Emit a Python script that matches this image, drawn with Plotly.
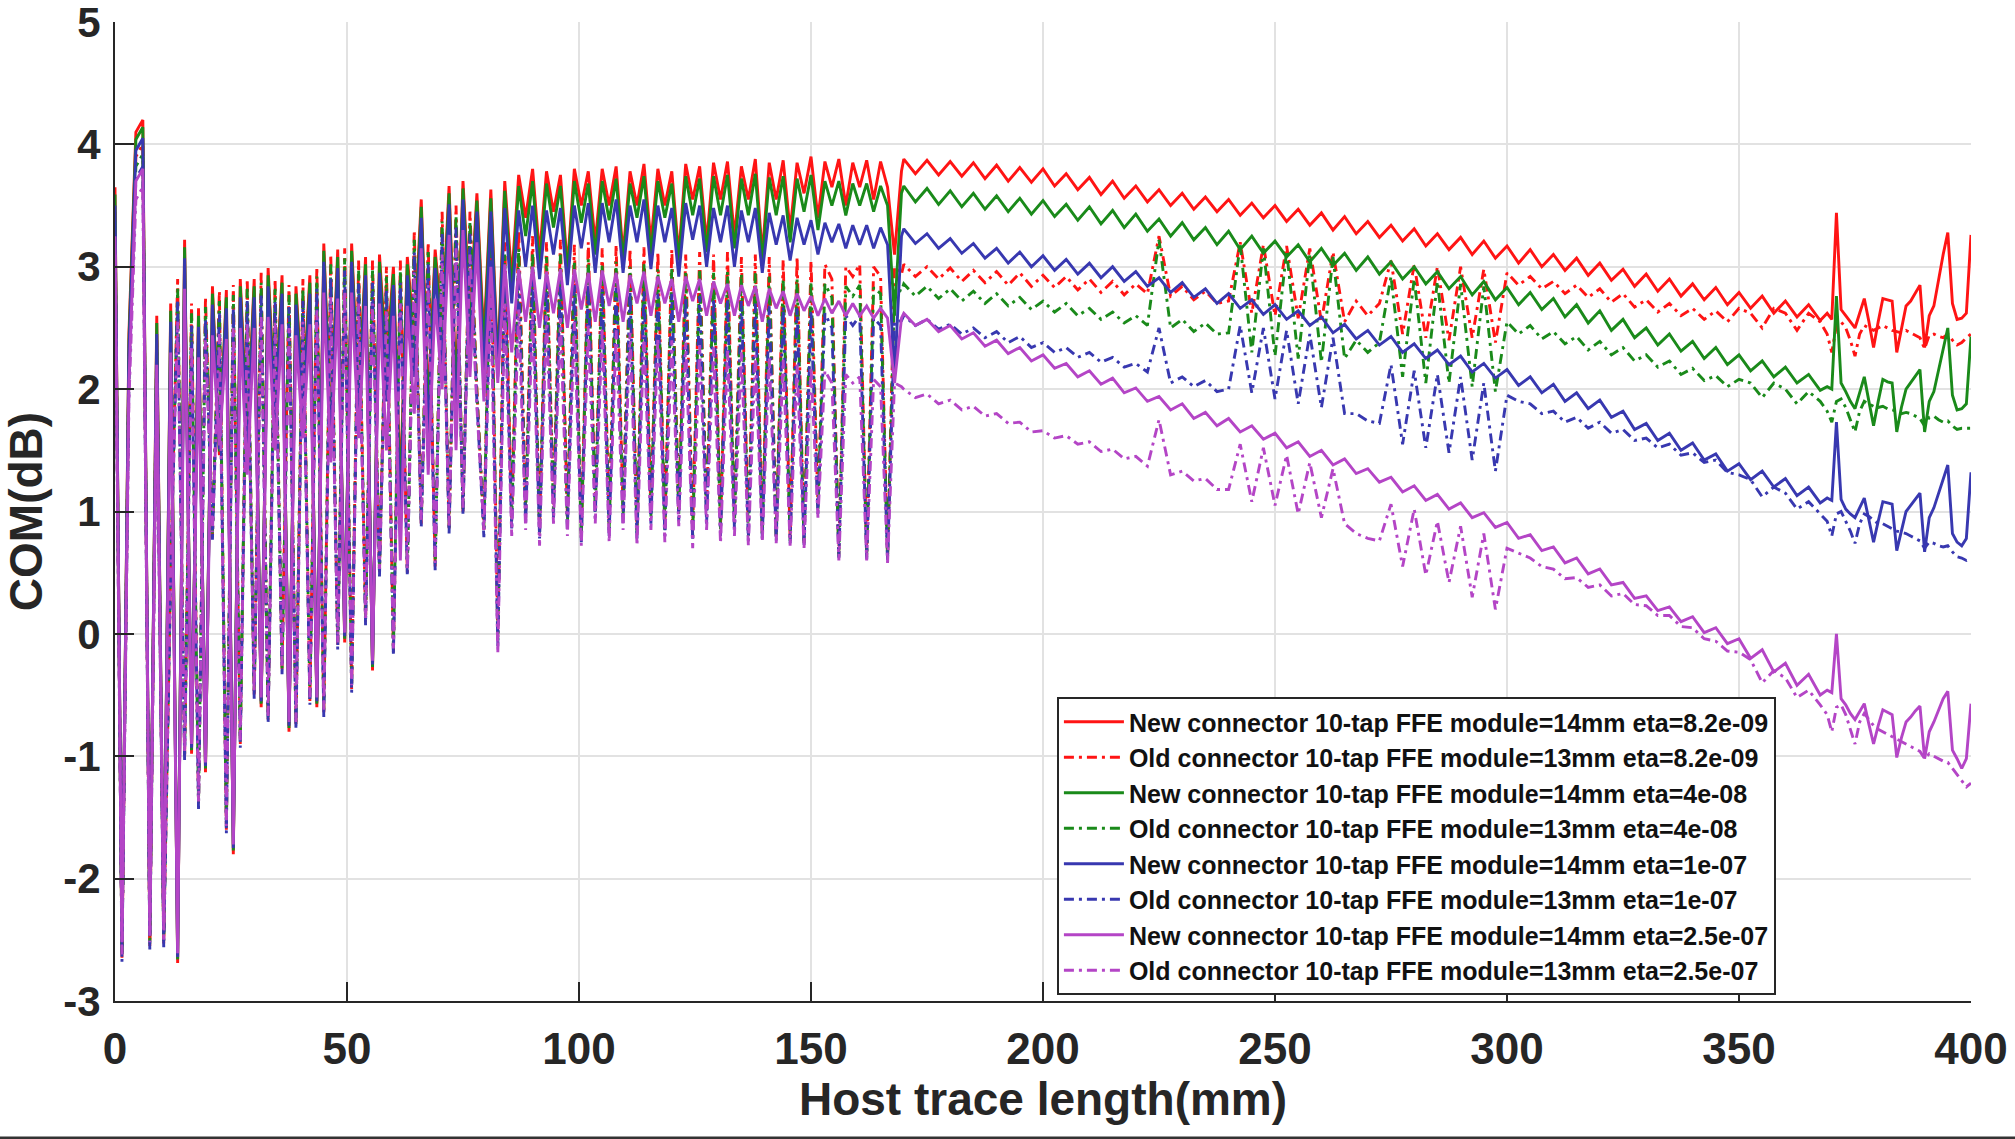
import numpy as np
import plotly.graph_objects as go

# ---------------- data ----------------
# host trace length (mm): dense sampling in the oscillating zone, coarser later, finer at the end
x_a = np.arange(0, 170, 1.5)      # 0 .. 169.5  (114 pts)
x_b = np.arange(170, 368, 2.5)    # 170 .. 367.5 (80 pts)
x_c = np.arange(369, 401, 1)      # 369 .. 400  (32 pts)

x_ticks = [0, 50, 100, 150, 200, 250, 300, 350, 400]
y_ticks = [-3, -2, -1, 0, 1, 2, 3, 4, 5]

names = [
    "New connector 10-tap FFE module=14mm eta=8.2e-09",
    "Old connector 10-tap FFE module=13mm eta=8.2e-09",
    "New connector 10-tap FFE module=14mm eta=4e-08",
    "Old connector 10-tap FFE module=13mm eta=4e-08",
    "New connector 10-tap FFE module=14mm eta=1e-07",
    "Old connector 10-tap FFE module=13mm eta=1e-07",
    "New connector 10-tap FFE module=14mm eta=2.5e-07",
    "Old connector 10-tap FFE module=13mm eta=2.5e-07",
]

# New connector, eta=8.2e-09 (red solid)
rs_a = [3.65, -2.6, 2.45, 4.1, 4.2, -2.5, 2.6, -2.48, 2.7, -2.69,
        3.22, -0.98, 2.66, -1.13, 2.84, 1.46, 2.81, -1.8, 2.9, 1.6,
        2.9, -0.6, 2.99, 1.8, 2.93, -0.8, 2.84, 1.9, 2.93, -0.6,
        3.19, 1.7, 3.14, -0.07, 3.19, 1.9, 3.08, -0.3, 3.1, 2.2,
        3.0, 1.2, 3.08, 2.4, 3.55, 1.9, 3.14, 2.5, 3.66, 2.0,
        3.7, 2.6, 3.6, 2.4,
        3.63, 2.2, 3.70, 2.9, 3.75, 3.4, 3.80, 3.1, 3.78, 3.45,
        3.75, 3.0, 3.80, 3.5, 3.78, 3.2, 3.80, 3.5, 3.82, 3.1,
        3.78, 3.5, 3.84, 3.2, 3.80, 3.5, 3.78, 3.1, 3.84, 3.55,
        3.82, 3.2, 3.85, 3.55, 3.86, 3.25, 3.82, 3.55, 3.88, 3.1,
        3.85, 3.55, 3.87, 3.3, 3.85, 3.6, 3.90, 3.4, 3.86, 3.65,
        3.88, 3.5, 3.85, 3.65, 3.87, 3.55, 3.86, 3.65, 3.1, 3.78]
rs_b = [3.88, 3.76, 3.87, 3.75, 3.86, 3.74, 3.85, 3.72, 3.83, 3.70,
        3.81, 3.69, 3.80, 3.66, 3.76, 3.63, 3.73, 3.59, 3.70, 3.56,
        3.66, 3.53, 3.63, 3.50, 3.60, 3.47, 3.57, 3.45, 3.55, 3.42,
        3.52, 3.40, 3.50, 3.37, 3.47, 3.34, 3.44, 3.30, 3.41, 3.27,
        3.37, 3.24, 3.34, 3.21, 3.31, 3.17, 3.27, 3.14, 3.24, 3.10,
        3.21, 3.07, 3.17, 3.03, 3.14, 3.00, 3.10, 2.97, 3.07, 2.93,
        3.03, 2.89, 2.98, 2.84, 2.94, 2.80, 2.90, 2.76, 2.86, 2.73,
        2.83, 2.69, 2.79, 2.66, 2.76, 2.62, 2.72, 2.59, 2.69, 2.56]
rs_c = [2.62, 2.57, 3.44, 2.65, 2.60, 2.55, 2.50, 2.62, 2.74, 2.55,
        2.34, 2.55, 2.74, 2.73, 2.72, 2.30, 2.50, 2.68, 2.72, 2.78,
        2.85, 2.34, 2.60, 2.68, 2.90, 3.10, 3.28, 2.70, 2.57, 2.58,
        2.62, 3.26]

# Old connector, eta=8.2e-09 (red dash-dot)
rd_a = [3.45, -2.65, 2.25, 3.90, 4.00, -2.55, 2.40, -2.53, 0.5, 2.9,
        -1.0, 2.7, -1.4, 2.75, 0.8, 2.8, -1.6, 2.85, -0.9, 2.9,
        -0.5, 2.95, -0.7, 2.9, -0.3, 2.85, -0.75, 2.9, -0.55, 3.0,
        -0.65, 3.1, -0.1, 3.15, -0.45, 3.05, 0.1, 3.05, 0.5, 3.0,
        -0.15, 3.05, 0.5, 3.3, 0.9, 3.2, 0.55, 3.45, 0.85, 3.5,
        1.0, 3.45, 2.0, 0.85,
        3.35, 0.0, 3.2, 0.95, 3.3, 1.0, 3.25, 0.85, 3.2, 1.05,
        3.22, 0.95, 3.18, 0.8, 3.2, 1.05, 3.15, 0.9, 3.18, 1.0,
        3.15, 0.85, 3.16, 1.0, 3.12, 0.88, 3.14, 1.02, 3.1, 0.85,
        3.12, 1.0, 3.1, 0.88, 3.12, 0.95, 3.08, 0.85, 3.1, 0.82,
        3.08, 0.8, 3.06, 0.78, 3.08, 0.75, 3.05, 1.05, 3.02, 2.9,
        0.65, 3.0, 2.92, 3.02, 0.65, 3.0, 2.92, 0.62, 3.0, 2.94]
rd_b = [3.02, 2.92, 3.00, 2.90, 2.99, 2.88, 2.97, 2.87, 2.96, 2.85,
        2.95, 2.84, 2.93, 2.83, 2.92, 2.81, 2.90, 2.79, 2.88, 2.77,
        2.86, 2.78, 3.25, 2.76, 2.84, 2.73, 2.80, 2.70, 2.72, 3.20,
        2.62, 3.18, 2.60, 3.17, 2.58, 3.15, 2.55, 3.12, 2.55, 2.72,
        2.60, 2.70, 3.05, 2.45, 3.02, 2.42, 3.00, 2.40, 3.00, 2.42,
        2.98, 2.38, 2.95, 2.85, 2.92, 2.82, 2.88, 2.78, 2.85, 2.75,
        2.82, 2.71, 2.78, 2.67, 2.73, 2.63, 2.70, 2.60, 2.66, 2.57,
        2.64, 2.55, 2.66, 2.62, 2.50, 2.66, 2.62, 2.48, 2.62, 2.55]
rd_c = [2.45, 2.30, 2.52, 2.55, 2.50, 2.40, 2.27, 2.45, 2.52, 2.50,
        2.48, 2.50, 2.52, 2.50, 2.48, 2.47, 2.46, 2.48, 2.46, 2.44,
        2.42, 2.33, 2.44, 2.45, 2.43, 2.42, 2.45, 2.40, 2.36, 2.38,
        2.42, 2.45]

# New connector, eta=4e-08 (green solid)
gs_a = [3.59, -2.57, 2.39, 4.04, 4.14, -2.47, 2.54, -2.45, 2.64, -2.66,
        3.16, -0.95, 2.60, -1.10, 2.78, 1.49, 2.75, -1.77, 2.84, 1.55,
        2.84, -0.57, 2.93, 1.75, 2.87, -0.77, 2.78, 1.85, 2.87, -0.57,
        3.13, 1.65, 3.08, -0.04, 3.13, 1.85, 3.02, -0.27, 3.04, 2.1,
        2.94, 1.1, 3.02, 2.3, 3.49, 1.8, 3.08, 2.4, 3.60, 1.9,
        3.64, 2.5, 3.54, 2.3,
        3.56, 2.15, 3.62, 2.8, 3.66, 3.25, 3.70, 3.0, 3.68, 3.32,
        3.66, 2.95, 3.70, 3.36, 3.68, 3.1, 3.70, 3.38, 3.72, 3.05,
        3.68, 3.4, 3.74, 3.1, 3.70, 3.4, 3.68, 3.05, 3.74, 3.42,
        3.72, 3.12, 3.74, 3.42, 3.75, 3.15, 3.72, 3.42, 3.76, 3.05,
        3.73, 3.42, 3.74, 3.2, 3.72, 3.45, 3.75, 3.3, 3.70, 3.5,
        3.70, 3.42, 3.68, 3.5, 3.68, 3.45, 3.66, 3.5, 2.6, 3.6]
gs_b = [3.66, 3.53, 3.64, 3.51, 3.62, 3.49, 3.60, 3.47, 3.58, 3.45,
        3.56, 3.43, 3.54, 3.41, 3.51, 3.38, 3.49, 3.35, 3.46, 3.32,
        3.43, 3.29, 3.39, 3.25, 3.36, 3.22, 3.32, 3.18, 3.29, 3.14,
        3.25, 3.11, 3.21, 3.08, 3.18, 3.04, 3.15, 3.01, 3.11, 2.97,
        3.08, 2.94, 3.04, 2.90, 3.00, 2.86, 2.96, 2.82, 2.92, 2.77,
        2.88, 2.73, 2.83, 2.69, 2.79, 2.65, 2.74, 2.59, 2.69, 2.54,
        2.64, 2.48, 2.57, 2.42, 2.50, 2.36, 2.45, 2.31, 2.39, 2.25,
        2.34, 2.20, 2.28, 2.15, 2.23, 2.10, 2.18, 2.05, 2.12, 1.99]
gs_c = [2.02, 2.00, 2.76, 2.05, 1.98, 1.90, 1.84, 1.97, 2.10, 1.90,
        1.70, 1.90, 2.08, 2.06, 2.05, 1.65, 1.85, 2.00, 2.05, 2.10,
        2.16, 1.65, 1.90, 1.98, 2.15, 2.33, 2.50, 1.95, 1.83, 1.84,
        1.88, 2.43]

# Old connector, eta=4e-08 (green dash-dot)
gd_a = [3.37, -2.63, 2.17, 3.82, 3.92, -2.53, 2.32, -2.51, 0.52, 2.82,
        -0.98, 2.62, -1.38, 2.67, 0.82, 2.72, -1.58, 2.77, -0.88, 2.82,
        -0.48, 2.87, -0.68, 2.82, -0.28, 2.77, -0.73, 2.82, -0.53, 2.92,
        -0.63, 3.02, -0.08, 3.07, -0.43, 2.97, 0.12, 2.97, 0.52, 2.92,
        -0.13, 2.97, 0.52, 3.22, 0.92, 3.12, 0.57, 3.37, 0.87, 3.42,
        1.02, 3.37, 1.95, 0.87,
        3.25, -0.05, 3.1, 0.92, 3.15, 0.95, 3.12, 0.82, 3.08, 1.0,
        3.1, 0.9, 3.05, 0.78, 3.06, 1.0, 3.02, 0.85, 3.04, 0.95,
        3.0, 0.82, 3.02, 0.96, 2.98, 0.85, 3.0, 0.98, 2.96, 0.8,
        2.98, 0.96, 2.95, 0.84, 2.96, 0.9, 2.94, 0.8, 2.95, 0.8,
        2.92, 0.78, 2.9, 0.76, 2.9, 0.74, 2.88, 1.0, 2.86, 2.75,
        0.63, 2.84, 2.76, 2.85, 0.63, 2.83, 2.78, 0.61, 2.82, 2.8]
gd_b = [2.86, 2.76, 2.84, 2.74, 2.82, 2.72, 2.80, 2.70, 2.78, 2.68,
        2.75, 2.65, 2.72, 2.63, 2.70, 2.60, 2.66, 2.57, 2.63, 2.54,
        2.60, 2.52, 3.22, 2.50, 2.57, 2.47, 2.54, 2.45, 2.46, 3.18,
        2.30, 3.15, 2.27, 3.13, 2.25, 3.10, 2.22, 3.08, 2.25, 2.40,
        2.30, 2.38, 2.92, 2.10, 2.90, 2.05, 2.88, 2.05, 2.86, 2.02,
        2.84, 1.98, 2.55, 2.45, 2.52, 2.41, 2.47, 2.37, 2.43, 2.32,
        2.39, 2.28, 2.34, 2.23, 2.28, 2.18, 2.23, 2.12, 2.17, 2.07,
        2.11, 2.02, 2.08, 2.05, 1.93, 2.05, 2.00, 1.88, 1.98, 1.90]
gd_c = [1.82, 1.73, 1.90, 1.92, 1.85, 1.75, 1.65, 1.82, 1.90, 1.88,
        1.86, 1.85, 1.86, 1.84, 1.83, 1.82, 1.80, 1.81, 1.80, 1.78,
        1.76, 1.70, 1.77, 1.78, 1.75, 1.73, 1.74, 1.70, 1.67, 1.68,
        1.68, 1.68]

# New connector, eta=1e-07 (blue solid)
bs_a = [3.50, -2.55, 2.30, 3.95, 4.05, -2.45, 2.45, -2.43, 2.55, -2.64,
        3.07, -0.93, 2.51, -1.08, 2.69, 1.51, 2.66, -1.75, 2.75, 1.45,
        2.75, -0.55, 2.84, 1.65, 2.78, -0.75, 2.69, 1.75, 2.78, -0.55,
        3.04, 1.55, 2.99, -0.02, 3.04, 1.75, 2.93, -0.25, 2.95, 1.9,
        2.85, 0.9, 2.93, 2.1, 3.40, 1.6, 2.99, 2.2, 3.51, 1.7,
        3.55, 2.3, 3.45, 2.1,
        3.45, 2.1, 3.48, 2.7, 3.46, 3.0, 3.50, 2.9, 3.46, 3.1,
        3.48, 2.85, 3.50, 3.15, 3.52, 2.95, 3.52, 3.2, 3.55, 2.95,
        3.50, 3.2, 3.55, 2.98, 3.50, 3.2, 3.48, 2.92, 3.52, 3.22,
        3.50, 3.0, 3.48, 3.2, 3.50, 3.0, 3.46, 3.2, 3.48, 2.95,
        3.44, 3.18, 3.42, 3.05, 3.40, 3.18, 3.38, 3.1, 3.36, 3.2,
        3.35, 3.15, 3.34, 3.18, 3.34, 3.15, 3.32, 3.18, 2.1, 3.25]
bs_b = [3.31, 3.19, 3.27, 3.15, 3.23, 3.11, 3.19, 3.07, 3.15, 3.03,
        3.12, 3.00, 3.09, 2.97, 3.06, 2.94, 3.03, 2.91, 3.00, 2.88,
        2.96, 2.84, 2.91, 2.79, 2.87, 2.75, 2.82, 2.70, 2.78, 2.66,
        2.73, 2.61, 2.69, 2.57, 2.64, 2.52, 2.59, 2.46, 2.53, 2.41,
        2.48, 2.36, 2.43, 2.30, 2.37, 2.25, 2.32, 2.20, 2.27, 2.14,
        2.21, 2.09, 2.16, 2.03, 2.10, 1.97, 2.04, 1.90, 1.97, 1.84,
        1.91, 1.77, 1.82, 1.67, 1.72, 1.58, 1.64, 1.50, 1.56, 1.42,
        1.47, 1.33, 1.39, 1.26, 1.33, 1.20, 1.27, 1.13, 1.20, 1.07]
bs_c = [1.11, 1.09, 1.73, 1.10, 1.02, 0.98, 0.95, 1.03, 1.11, 0.93,
        0.75, 0.92, 1.08, 1.07, 1.06, 0.68, 0.85, 1.00, 1.05, 1.10,
        1.15, 0.67, 0.95, 1.03, 1.15, 1.27, 1.38, 0.82, 0.75, 0.72,
        0.78, 1.32]

# Old connector, eta=1e-07 (blue dash-dot)
bd_a = [3.27, -2.68, 2.07, 3.72, 3.82, -2.58, 2.22, -2.56, 0.47, 2.72,
        -1.03, 2.52, -1.43, 2.57, 0.77, 2.62, -1.63, 2.67, -0.93, 2.72,
        -0.53, 2.77, -0.73, 2.72, -0.33, 2.67, -0.78, 2.72, -0.58, 2.82,
        -0.68, 2.92, -0.13, 2.97, -0.48, 2.87, 0.07, 2.87, 0.47, 2.82,
        -0.18, 2.87, 0.47, 3.12, 0.87, 3.02, 0.52, 3.27, 0.82, 3.32,
        0.97, 3.27, 1.9, 0.79,
        3.05, -0.1, 2.95, 0.85, 2.95, 0.9, 2.92, 0.78, 2.9, 0.95,
        2.88, 0.85, 2.85, 0.75, 2.86, 0.95, 2.82, 0.8, 2.83, 0.9,
        2.8, 0.78, 2.8, 0.9, 2.78, 0.8, 2.78, 0.92, 2.75, 0.76,
        2.76, 0.9, 2.74, 0.8, 2.73, 0.86, 2.72, 0.76, 2.7, 0.78,
        2.68, 0.76, 2.67, 0.74, 2.66, 0.72, 2.64, 0.98, 2.62, 2.5,
        0.62, 2.6, 2.52, 2.6, 0.61, 2.58, 2.52, 0.6, 2.55, 2.56]
bd_b = [2.60, 2.52, 2.57, 2.49, 2.53, 2.45, 2.50, 2.42, 2.47, 2.38,
        2.43, 2.34, 2.38, 2.30, 2.34, 2.26, 2.30, 2.22, 2.26, 2.18,
        2.21, 2.14, 2.50, 2.05, 2.10, 2.02, 2.07, 1.98, 2.00, 2.52,
        1.97, 2.50, 1.92, 2.48, 1.88, 2.45, 1.85, 2.42, 1.80, 1.80,
        1.74, 1.72, 2.20, 1.55, 2.15, 1.52, 2.12, 1.48, 2.10, 1.42,
        2.05, 1.33, 1.95, 1.90, 1.88, 1.80, 1.82, 1.73, 1.77, 1.68,
        1.73, 1.64, 1.67, 1.58, 1.60, 1.52, 1.55, 1.46, 1.48, 1.40,
        1.42, 1.32, 1.30, 1.26, 1.12, 1.20, 1.15, 1.02, 1.08, 0.98]
bd_c = [0.92, 0.80, 0.98, 1.00, 0.92, 0.84, 0.74, 0.90, 0.98, 0.96,
        0.93, 0.90, 0.90, 0.88, 0.86, 0.84, 0.83, 0.82, 0.80, 0.78,
        0.76, 0.70, 0.75, 0.74, 0.72, 0.71, 0.72, 0.67, 0.63, 0.62,
        0.60, 0.62]

# New connector, eta=2.5e-07 (purple solid)
ps_a = [3.25, -2.52, 2.05, 3.70, 3.80, -2.42, 2.20, -2.40, 2.30, -2.61,
        2.82, -0.90, 2.26, -1.05, 2.44, 1.54, 2.41, -1.72, 2.50, 1.3,
        2.50, -0.52, 2.59, 1.5, 2.53, -0.72, 2.44, 1.6, 2.53, -0.52,
        2.79, 1.4, 2.74, 0.01, 2.79, 1.6, 2.68, -0.22, 2.70, 1.5,
        2.60, 0.6, 2.68, 1.8, 3.15, 1.3, 2.74, 2.0, 3.26, 1.5,
        3.30, 2.1, 3.20, 1.9,
        3.0, 2.05, 3.02, 2.3, 2.98, 2.55, 3.0, 2.5, 2.96, 2.62,
        2.98, 2.5, 2.98, 2.65, 2.95, 2.55, 2.97, 2.68, 2.95, 2.55,
        2.93, 2.7, 2.96, 2.6, 2.92, 2.7, 2.90, 2.55, 2.92, 2.72,
        2.90, 2.6, 2.88, 2.7, 2.86, 2.6, 2.85, 2.68, 2.84, 2.55,
        2.82, 2.66, 2.80, 2.6, 2.78, 2.64, 2.76, 2.6, 2.74, 2.62,
        2.72, 2.6, 2.70, 2.6, 2.68, 2.58, 2.66, 2.58, 2.05, 2.58]
ps_b = [2.62, 2.52, 2.57, 2.47, 2.52, 2.41, 2.46, 2.35, 2.40, 2.29,
        2.34, 2.23, 2.28, 2.17, 2.21, 2.10, 2.15, 2.04, 2.09, 1.97,
        2.01, 1.90, 1.94, 1.83, 1.88, 1.76, 1.81, 1.70, 1.76, 1.65,
        1.70, 1.59, 1.64, 1.52, 1.57, 1.45, 1.50, 1.38, 1.43, 1.31,
        1.35, 1.24, 1.28, 1.16, 1.21, 1.09, 1.14, 1.02, 1.07, 0.95,
        0.99, 0.87, 0.91, 0.78, 0.81, 0.68, 0.71, 0.58, 0.62, 0.49,
        0.53, 0.40, 0.42, 0.29, 0.31, 0.19, 0.22, 0.10, 0.14, 0.01,
        0.05, -0.08, -0.04, -0.20, -0.13, -0.31, -0.24, -0.42, -0.33, -0.50]
ps_c = [-0.46, -0.48, 0.00, -0.53, -0.58, -0.65, -0.70, -0.63, -0.57, -0.74,
        -0.90, -0.75, -0.62, -0.64, -0.66, -1.01, -0.85, -0.72, -0.68, -0.63,
        -0.59, -1.02, -0.80, -0.72, -0.62, -0.53, -0.47, -0.95, -1.02, -1.10,
        -1.02, -0.57]

# Old connector, eta=2.5e-07 (purple dash-dot)
pd_a = [3.10, -2.62, 1.90, 3.55, 3.65, -2.52, 2.05, -2.50, 0.53, 2.55,
        -0.97, 2.35, -1.37, 2.40, 0.83, 2.45, -1.57, 2.50, -0.87, 2.55,
        -0.47, 2.60, -0.67, 2.55, -0.27, 2.50, -0.72, 2.55, -0.52, 2.65,
        -0.62, 2.75, -0.07, 2.80, -0.42, 2.70, 0.13, 2.70, 0.53, 2.65,
        -0.12, 2.70, 0.53, 2.95, 0.93, 2.85, 0.58, 3.10, 0.88, 3.15,
        1.03, 3.10, 1.85, 0.85,
        2.75, -0.16, 2.7, 0.8, 2.65, 0.85, 2.62, 0.72, 2.6, 0.9,
        2.58, 0.8, 2.55, 0.72, 2.52, 0.9, 2.5, 0.75, 2.48, 0.85,
        2.46, 0.72, 2.44, 0.85, 2.42, 0.75, 2.4, 0.88, 2.38, 0.7,
        2.36, 0.85, 2.34, 0.74, 2.32, 0.8, 2.3, 0.72, 2.28, 0.75,
        2.26, 0.74, 2.24, 0.72, 2.2, 0.7, 2.18, 0.95, 2.15, 2.05,
        0.6, 2.12, 2.05, 2.1, 0.6, 2.08, 2.02, 0.58, 2.05, 2.02]
pd_b = [2.00, 1.93, 1.96, 1.88, 1.91, 1.83, 1.86, 1.78, 1.80, 1.72,
        1.73, 1.65, 1.66, 1.60, 1.62, 1.55, 1.57, 1.49, 1.51, 1.43,
        1.45, 1.37, 1.75, 1.30, 1.33, 1.25, 1.27, 1.18, 1.18, 1.55,
        1.08, 1.52, 1.05, 1.46, 0.98, 1.40, 0.95, 1.35, 0.90, 0.82,
        0.78, 0.76, 1.06, 0.55, 1.02, 0.48, 0.92, 0.42, 0.88, 0.30,
        0.82, 0.20, 0.70, 0.66, 0.62, 0.55, 0.53, 0.45, 0.46, 0.38,
        0.40, 0.31, 0.33, 0.24, 0.23, 0.15, 0.15, 0.06, 0.05, -0.04,
        -0.06, -0.14, -0.15, -0.21, -0.40, -0.30, -0.36, -0.52, -0.46, -0.58]
pd_c = [-0.66, -0.80, -0.60, -0.58, -0.66, -0.78, -0.90, -0.72, -0.65, -0.70,
        -0.75, -0.78, -0.80, -0.82, -0.84, -0.86, -0.88, -0.90, -0.92, -0.94,
        -0.96, -1.02, -0.98, -1.00, -1.02, -1.04, -1.05, -1.10, -1.15, -1.20,
        -1.25, -1.22]

# ---------------- figure ----------------
x = np.concatenate([x_a, x_b, x_c])
series = [rs_a + rs_b + rs_c, rd_a + rd_b + rd_c,
          gs_a + gs_b + gs_c, gd_a + gd_b + gd_c,
          bs_a + bs_b + bs_c, bd_a + bd_b + bd_c,
          ps_a + ps_b + ps_c, pd_a + pd_b + pd_c]

RED, GREEN, BLUE, PURPLE = "#ff1414", "#1a8a1a", "#3838b0", "#b445c6"
colors = [RED, RED, GREEN, GREEN, BLUE, BLUE, PURPLE, PURPLE]
DASHDOT = "10px,5px,3px,5px"
dashes = ["solid", DASHDOT] * 4

FONT = "Liberation Sans, Arial, sans-serif"
INK = "#262626"

fig = go.Figure()
for nm, yv, c, d in zip(names, series, colors, dashes):
    fig.add_trace(go.Scatter(x=x, y=yv, mode="lines", name=nm,
                             line=dict(color=c, width=2.9, dash=d)))

fig.update_layout(
    width=2015, height=1139,
    margin=dict(l=115, r=44, t=22, b=138, autoexpand=False),
    plot_bgcolor="white", paper_bgcolor="white",
    showlegend=True,
    legend=dict(x=0.5075, y=0.3105, xanchor="left", yanchor="top",
                bgcolor="white", bordercolor=INK, borderwidth=2,
                font=dict(family=FONT, size=25, color="#111111", weight="bold"),
                itemwidth=60, tracegroupgap=0),
    shapes=[dict(type="rect", xref="paper", yref="paper",
                 x0=-0.07, x1=1.03, y0=-0.1420, y1=-0.1385,
                 fillcolor="#333333", line=dict(width=0), layer="above")],
)
fig.update_xaxes(
    range=[0, 400], tickvals=x_ticks, ticktext=[str(v) for v in x_ticks],
    showgrid=True, gridcolor="#e2e2e2", gridwidth=1.5, zeroline=False,
    showline=True, linecolor=INK, linewidth=2,
    ticks="inside", ticklen=19, tickwidth=2, tickcolor=INK,
    tickfont=dict(family=FONT, size=44, color=INK, weight="bold"),
    ticklabelstandoff=8, ticklabeloverflow="allow",
    title=dict(text="Host trace length(mm)", standoff=8,
               font=dict(family=FONT, size=46, color=INK, weight="bold")),
    automargin=False,
)
fig.update_yaxes(
    range=[-3, 5], tickvals=y_ticks, ticktext=[str(v) for v in y_ticks],
    showgrid=True, gridcolor="#e2e2e2", gridwidth=1.5, zeroline=False,
    showline=True, linecolor=INK, linewidth=2,
    ticks="inside", ticklen=19, tickwidth=2, tickcolor=INK,
    tickfont=dict(family=FONT, size=42, color=INK, weight="bold"),
    ticklabelstandoff=4, ticklabeloverflow="allow",
    title=dict(text="COM(dB)", standoff=24,
               font=dict(family=FONT, size=46, color=INK, weight="bold")),
    automargin=False,
)

fig.write_html("out.html")
